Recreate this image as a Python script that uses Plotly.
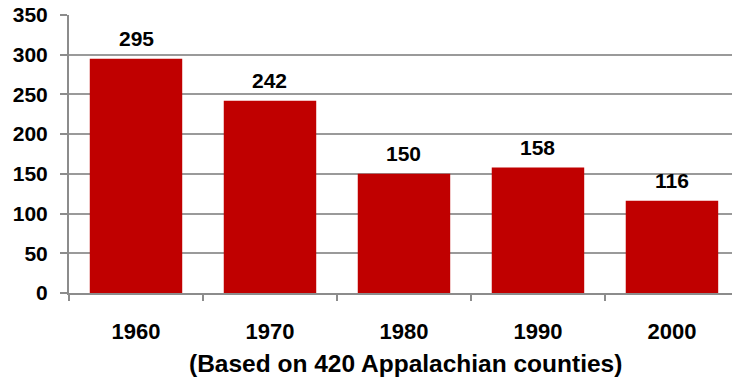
import plotly.graph_objects as go

years = ["1960", "1970", "1980", "1990", "2000"]
counties = [295, 242, 150, 158, 116]
y_ticks = [0, 50, 100, 150, 200, 250, 300, 350]

BAR_RED = "#C00000"
FONT = "Liberation Sans, Arial, sans-serif"

fig = go.Figure(
    go.Bar(
        x=years,
        y=counties,
        marker=dict(color=BAR_RED, line=dict(width=0)),
        hoverinfo="skip",
    )
)

# value labels above each bar (category index used as x position)
for i, v in enumerate(counties):
    fig.add_annotation(
        x=i, y=v, text=f"<b>{v}</b>", showarrow=False,
        yanchor="middle", yshift=20,
        font=dict(family=FONT, size=21, color="black"),
    )

fig.add_annotation(
    xref="paper", yref="paper", x=0.508, y=0, yshift=-70,
    text="<b>(Based on 420 Appalachian counties)</b>", showarrow=False,
    yanchor="middle", xanchor="center",
    font=dict(family=FONT, size=24.5, color="black"),
)

fig.update_layout(
    width=732, height=383,
    margin=dict(l=69, r=0, t=15, b=90),
    paper_bgcolor="white", plot_bgcolor="white",
    bargap=0.31,
    showlegend=False,
    font=dict(family=FONT, color="black"),
)

fig.update_xaxes(
    type="category",
    range=[-0.5, 4.448],
    tickson="boundaries",
    ticks="outside", ticklen=6, tickwidth=2, tickcolor="#8c8c8c",
    showline=True, linecolor="#8c8c8c", linewidth=2,
    showgrid=False,
    tickfont=dict(family=FONT, size=22, color="black"),
    ticklabelstandoff=18,
    tickprefix="<b>", ticksuffix="</b>",
)

fig.update_yaxes(
    range=[0, 350],
    tickvals=y_ticks,
    ticktext=[f"<b>{t}</b>" for t in y_ticks],
    ticks="outside", ticklen=7, tickwidth=2, tickcolor="#8c8c8c",
    showline=True, linecolor="#8c8c8c", linewidth=2,
    showgrid=True, gridcolor="#9a9a9a", gridwidth=1.5,
    zeroline=False,
    tickfont=dict(family=FONT, size=21, color="black"),
    ticklabelstandoff=8,
)

fig.write_html("out.html")
